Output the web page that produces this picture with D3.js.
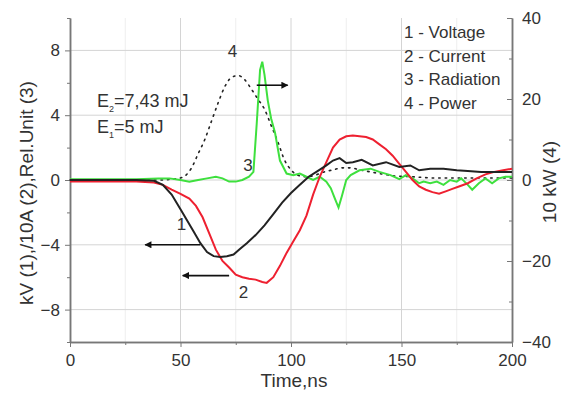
<!DOCTYPE html>
<html>
<head>
<meta charset="utf-8">
<script src="https://cdn.jsdelivr.net/npm/d3@7/dist/d3.min.js"></script>
<style>
  html, body { margin: 0; padding: 0; background: #fff; }
  svg { display: block; font-family: "Liberation Sans", Arial, sans-serif; }
  .axis path, .axis line { stroke: #777; }
  .axis text { fill: #333; font-size: 17px; font-family: "Liberation Sans", Arial, sans-serif; }
</style>
</head>
<body>
<svg id="chart" width="576" height="393"></svg>
<script>
// Time base (ns) and measured waveforms
const voltageT = [0,10,20,30,38,42,46,50,53,56,59,62,65,68,71,74,77,80,84,88,92,96,100,104,108,112,116,119,122,125,128,132,137,143,149,154,158,163,169,175,180,186,192,200];
const voltageV = [0,0,0,0,-0.05,-0.3,-0.9,-1.8,-2.5,-3.2,-3.9,-4.45,-4.7,-4.75,-4.7,-4.6,-4.25,-3.9,-3.4,-2.8,-2.1,-1.4,-0.8,-0.3,0.2,0.55,0.9,1.2,1.35,1.05,1.1,1.25,0.9,1.1,0.8,0.9,0.6,0.7,0.7,0.6,0.55,0.5,0.5,0.5];

const currentT = [0,10,20,30,38,42,46,50,54,57,60,63,66,69,72,75,78,81,84,87,89,92,95,98,101,104,107,110,113,116,119,122,125,128,131,134,137,140,143,146,149,152,155,158,161,164,167,170,173,176,180,184,188,192,196,200];
const currentV = [-0.1,-0.1,-0.1,-0.1,-0.15,-0.3,-0.6,-0.85,-1.15,-1.6,-2.3,-3.3,-4.3,-5.0,-5.4,-5.85,-6.0,-6.1,-6.15,-6.3,-6.35,-6.0,-5.3,-4.5,-3.8,-3.1,-2.2,-0.9,0.2,1.1,2.0,2.5,2.7,2.75,2.7,2.65,2.5,2.2,1.9,1.5,1.0,0.5,0.0,-0.4,-0.6,-0.75,-0.85,-0.7,-0.55,-0.4,-0.2,0.1,0.35,0.5,0.6,0.7];

const radiationT = [0,10,20,30,40,45,50,54,58,62,66,69,72,75,78,81,83,84.5,86,87,88,89.5,91,92.8,95,98,101,104,107,110,113,116,118,120,121.5,123,125,127,131,136,140,145,149,152,155,158,160,163,166,169,172,175,177,180,182,185,188,191,194,197,200];
const radiationV = [0.05,0.05,0.05,0.05,0.1,0.1,0,-0.1,0,0.1,0.2,0.1,-0.1,-0.1,0,0.2,0.5,3.5,6.8,7.3,6.5,4.9,3.8,2.9,1.2,0.4,0.3,0.4,0.2,0,0.2,-0.1,-0.5,-1.2,-1.7,-1.0,0.0,0.3,0.6,0.7,0.5,0.3,0.05,0.3,0.1,-0.2,-0.1,-0.2,-0.1,-0.3,0,-0.1,0.1,-0.3,-0.6,-0.2,0.1,-0.2,0.1,0.2,0.2];

const powerT = [0,10,20,30,40,48,52,55,58,61,64,67,70,73,76,79,82,85,88,91,94,97,100,103,107,111,115,119,123,127,131,136,141,147,155,165,175,185,200];
const powerW = [0,0,0,0,0,0.3,1.0,3.0,6.5,10,14.5,19,23,25.3,25.8,24.8,22.5,20,17.5,13.5,9.5,5,2.5,1.2,0.8,1.2,2,2.5,3,3,2.5,2,1.5,1,0.8,0.5,0.5,0.5,0.5];

// Axis ticks
const xTicks = [0,50,100,150,200];
const xMinor = [25,75,125,175];
const yLeftTicks = [-8,-4,0,4,8];
const yLeftMinor = [-10,-6,-2,2,6,10];
const yRightTicks = [-40,-20,0,20,40];
const yRightMinor = [-30,-10,10,30];

const legendItems = ["1 - Voltage","2 - Current","3 - Radiation","4 - Power"];

const svg = d3.select("#chart");
const x = d3.scaleLinear().domain([0,200]).range([70,512]);
const y = d3.scaleLinear().domain([-10,10]).range([342,18]);
const yR = d3.scaleLinear().domain([-40,40]).range([342,18]);

// grid
const grid = svg.append("g");
grid.selectAll(".gvm").data(xMinor).join("line")
  .attr("x1", d => x(d)).attr("x2", d => x(d)).attr("y1", 18).attr("y2", 342)
  .attr("stroke", "#eeeeee").attr("stroke-width", 1);
grid.selectAll(".gv").data(xTicks.slice(1,-1)).join("line")
  .attr("x1", d => x(d)).attr("x2", d => x(d)).attr("y1", 18).attr("y2", 342)
  .attr("stroke", "#d4d4d4").attr("stroke-width", 1);
grid.selectAll(".gh").data(yLeftTicks).join("line")
  .attr("x1", 70).attr("x2", 512).attr("y1", d => y(d)).attr("y2", d => y(d))
  .attr("stroke", "#d4d4d4").attr("stroke-width", 1);

// axes
const axL = svg.append("g").attr("class","axis").attr("transform","translate(70,0)")
  .call(d3.axisLeft(y).tickValues(yLeftTicks).tickSize(5).tickPadding(5).tickSizeOuter(0));
svg.append("g").attr("class","axis").attr("transform","translate(70,0)")
  .call(d3.axisLeft(y).tickValues(yLeftMinor).tickSize(3).tickFormat("").tickSizeOuter(0));
svg.append("g").attr("class","axis").attr("transform","translate(0,342)")
  .call(d3.axisBottom(x).tickValues(xTicks).tickSize(5).tickPadding(7).tickSizeOuter(0));
svg.append("g").attr("class","axis").attr("transform","translate(0,342)")
  .call(d3.axisBottom(x).tickValues(xMinor).tickSize(3).tickFormat("").tickSizeOuter(0));
svg.append("g").attr("class","axis").attr("transform","translate(512,0)")
  .call(d3.axisRight(yR).tickValues(yRightTicks).tickSize(-5).tickPadding(10).tickSizeOuter(0));
svg.append("g").attr("class","axis").attr("transform","translate(512,0)")
  .call(d3.axisRight(yR).tickValues(yRightMinor).tickSize(-3).tickFormat("").tickSizeOuter(0));
svg.selectAll(".axis path").attr("stroke-width", 1.5);

// curves
const lineL = d3.line().x(d => x(d[0])).y(d => y(d[1]));
const lineR = d3.line().x(d => x(d[0])).y(d => yR(d[1]));
const zip = (a, b) => a.map((v, i) => [v, b[i]]);

svg.append("path").datum(zip(powerT, powerW)).attr("d", lineR.curve(d3.curveMonotoneX))
  .attr("fill","none").attr("stroke","#222").attr("stroke-width",1.6)
  .attr("stroke-dasharray","1.5,5").attr("stroke-linecap","round");
svg.append("path").datum(zip(radiationT, radiationV)).attr("d", lineL)
  .attr("fill","none").attr("stroke","#3ee03e").attr("stroke-width",2);
svg.append("path").datum(zip(currentT, currentV)).attr("d", lineL)
  .attr("fill","none").attr("stroke","#ee2030").attr("stroke-width",2);
svg.append("path").datum(zip(voltageT, voltageV)).attr("d", lineL)
  .attr("fill","none").attr("stroke","#222").attr("stroke-width",2);

// arrow markers
svg.append("defs").append("marker").attr("id","ah")
  .attr("viewBox","0 0 10 10").attr("refX",9).attr("refY",5)
  .attr("markerWidth",9).attr("markerHeight",7).attr("markerUnits","userSpaceOnUse")
  .attr("orient","auto")
  .append("path").attr("d","M0,0L10,5L0,10Z").attr("fill","#111");

function arrow(t0, t1, yv, scale) {
  svg.append("line").attr("x1", x(t0)).attr("x2", x(t1))
    .attr("y1", scale(yv)).attr("y2", scale(yv))
    .attr("stroke","#111").attr("stroke-width",1.6).attr("marker-end","url(#ah)");
}
arrow(59, 34, -4.0, y);
arrow(72, 51, -5.9, y);
arrow(84.5, 98.5, 23.4, yR);

// curve labels
const tl = svg.append("g").attr("fill","#333").attr("font-size",17).attr("text-anchor","middle");
tl.append("text").attr("x", x(50.5)).attr("y", y(-3.1)).text("1");
tl.append("text").attr("x", x(78.5)).attr("y", y(-7.3)).text("2");
tl.append("text").attr("x", x(80.5)).attr("y", y(0.55)).text("3");
tl.append("text").attr("x", x(73.5)).attr("y", y(7.6)).text("4");

// energy annotations
const en = svg.append("g").attr("fill","#333").attr("font-size",18);
const e2 = en.append("text").attr("x", 97).attr("y", 107);
e2.append("tspan").text("E");
e2.append("tspan").attr("font-size",9).attr("dy",5).text("2");
e2.append("tspan").attr("dy",-5).text("=7,43 mJ");
const e1 = en.append("text").attr("x", 97).attr("y", 133);
e1.append("tspan").text("E");
e1.append("tspan").attr("font-size",9).attr("dy",5).text("1");
e1.append("tspan").attr("dy",-5).text("=5 mJ");

// legend
svg.append("g").attr("fill","#333").attr("font-size",17)
  .selectAll("text").data(legendItems).join("text")
  .attr("x", 404).attr("y", (d, i) => 38 + i * 23.6).text(d => d);

// axis titles
svg.append("text").attr("transform","translate(33,193) rotate(-90)")
  .attr("text-anchor","middle").attr("fill","#333").attr("font-size",19)
  .text("kV (1),/10A (2),Rel.Unit (3)");
svg.append("text").attr("transform","translate(556,182) rotate(-90)")
  .attr("text-anchor","middle").attr("fill","#333").attr("font-size",19)
  .text("10 kW (4)");
svg.append("text").attr("x", 294).attr("y", 387)
  .attr("text-anchor","middle").attr("fill","#333").attr("font-size",19)
  .text("Time,ns");
</script>
</body>
</html>
